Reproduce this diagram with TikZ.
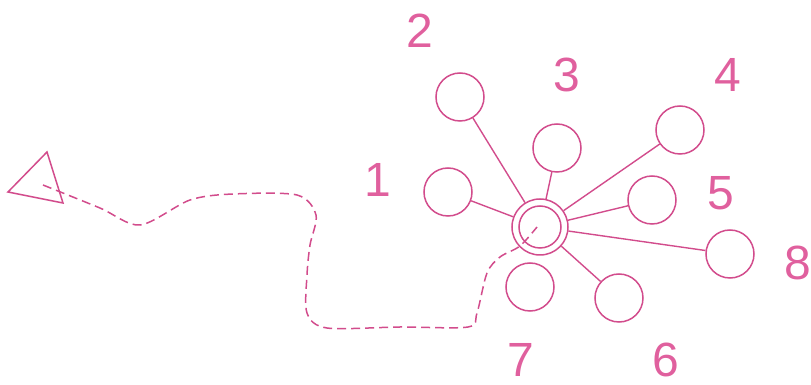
\documentclass[tikz,border=0pt]{standalone}
\usepackage{fontspec}
\setmainfont{Liberation Sans}
\usetikzlibrary{positioning, calc}
\definecolor{rose}{HTML}{D24C8C}
\definecolor{roselbl}{HTML}{E0609E}

\begin{document}
\begin{tikzpicture}[
  x=0.5pt, y=-0.5pt,
  sat/.style={draw=rose, line width=0.75pt, circle, minimum size=24pt, inner sep=0pt},
  hubring/.style={draw=rose, line width=0.75pt, circle, inner sep=0pt},
  spoke/.style={draw=rose, line width=0.7pt},
  route/.style={draw=rose, line width=0.75pt, dash pattern=on 4.5pt off 2.5pt},
  numlbl/.style={font=\fontsize{24}{28}\selectfont, text=roselbl, inner sep=0pt},
]

% Frame
\useasboundingbox (0,0) rectangle (811,385);

% === Hub ===
\node[hubring, minimum size=28pt] (hub) at (540,227) {};
\node[hubring, minimum size=21pt] (hubin) at (540,227) {};

% === Satellites ===
\node[sat] (s1) at (448,192) {};
\node[sat] (s2) at (460,97) {};
\node[sat] (s3) at (557,148) {};
\node[sat] (s4) at (680,130) {};
\node[sat] (s5) at (652,200) {};
\node[sat] (s8) at (730,254) {};
\node[sat] (s6) at (619,298) {};
\node[sat] (s7) at (530,287) {};

% Spokes (7 has none)
\foreach \s in {s1,s2,s3,s4,s5,s8,s6}
  \draw[spoke] (hub) -- (\s);

% === Labels ===
\node[numlbl] (l1) at (378,180) {1};
\node[numlbl] (l2) at (420,31) {2};
\node[numlbl] (l3) at (567,75) {3};
\node[numlbl] (l4) at (728,75) {4};
\node[numlbl] (l5) at (721,193) {5};
\node[numlbl] (l8) at (798,263) {8};
\node[numlbl] (l7) at (521,360) {7};
\node[numlbl] (l6) at (666,360) {6};

% === Triangle (start) ===
\coordinate (ta) at (47,152);
\coordinate (tb) at (8,192);
\coordinate (tc) at (63,203);
\draw[rose, line width=0.75pt] (ta) -- (tb) -- (tc) -- cycle;

% === Dashed route ===
\coordinate (start) at (43,185);
\coordinate (goal) at (537,227);
\draw[route] plot[smooth, tension=0.5] coordinates {
  (start) (100,208) (140,225) (190,200) (233,194) (297,195) (316,215)
  (310,245) (307,275) (307,313) (327,328) (400,327) (468,327)
  (477,313) (487,273) (500,257) (520,246) (goal)};

\end{tikzpicture}
\end{document}
